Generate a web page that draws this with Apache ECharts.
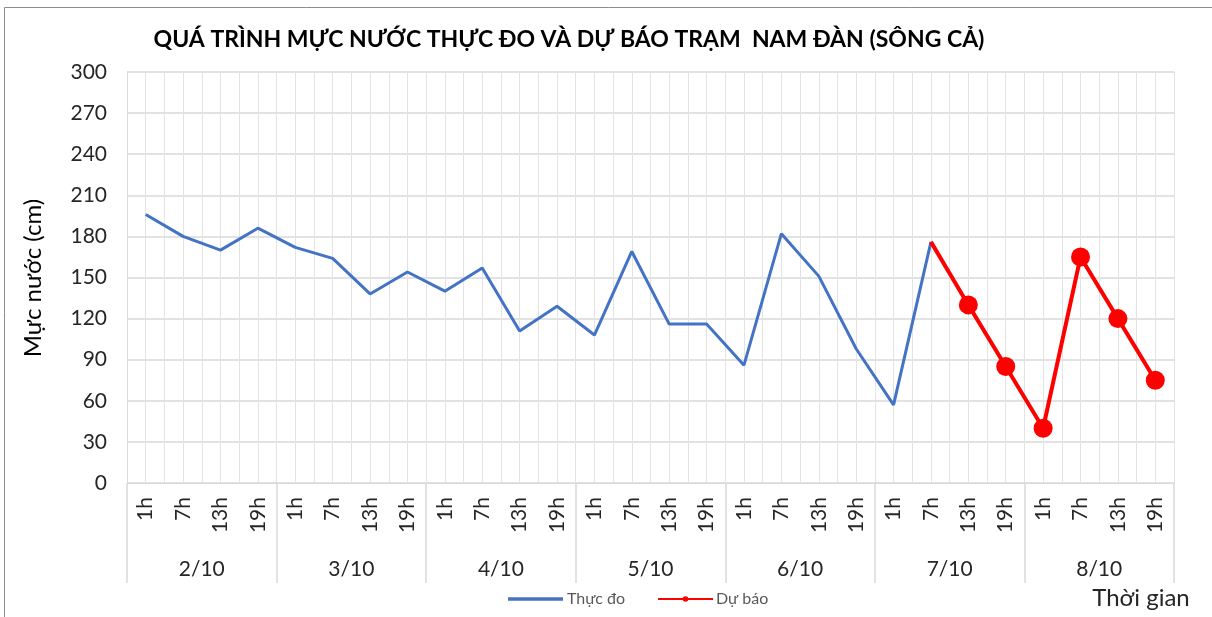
<!DOCTYPE html>
<html><head><meta charset="utf-8">
<script src="https://cdn.jsdelivr.net/npm/echarts@6/dist/echarts.min.js"></script>
<style>html,body{margin:0;padding:0;background:#fff}#c{width:1212px;height:617px}</style>
</head><body><div id="c"></div>
<script>
const hours = ['1h','7h','13h','19h'];
const days = ['2/10','3/10','4/10','5/10','6/10','7/10','8/10'];
const categories = days.flatMap(d => hours.map(h => d + ' ' + h));
const observed = [196,180,170,186, 172,164,138,154, 140,157,111,129, 108,169,116,116, 86,182,151,98, 57,176];
const forecast = [null,null,null,null, null,null,null,null, null,null,null,null, null,null,null,null, null,null,null,null, null,176,130,85, 40,165,120,75];
const yTicks = {min:0, max:300, interval:30};

const FONT = 'Lato';
const chart = echarts.init(document.getElementById('c'), null, {renderer:'canvas'});
chart.setOption({
  animation:false,
  textStyle:{fontFamily:FONT},
  grid:{left:127, right:38, top:72, bottom:134, containLabel:false},
  graphic:[
    {type:'rect', shape:{x:4.5,y:7.5,width:1300,height:700}, style:{fill:'none', stroke:'#8c8c8c', lineWidth:1}, silent:true},
    {type:'text', x:569, y:40, style:{text:'QUÁ TRÌNH MỰC NƯỚC THỰC ĐO VÀ DỰ BÁO TRẠM  NAM ĐÀN (SÔNG CẢ)', font:'bold 23px '+FONT, fill:'#000', align:'center', verticalAlign:'middle'}},
    {type:'text', x:33, y:278, rotation:Math.PI/2, style:{text:'Mực nước (cm)', font:'24px '+FONT, fill:'#000', align:'center', verticalAlign:'middle'}},
    {type:'text', x:1141, y:598, style:{text:'Thời gian', font:'24px '+FONT, fill:'#262626', align:'center', verticalAlign:'middle'}}
  ],
  legend:[
    {data:[{name:'Thực đo', icon:'rect'}], left:503, top:586, itemWidth:55, itemHeight:3.5,
     textStyle:{fontSize:16, color:'#595959', fontFamily:FONT, padding:[0,0,0,-1]}},
    {data:['Dự báo'], left:652, top:586, itemWidth:55, itemHeight:7,
     textStyle:{fontSize:16, color:'#595959', fontFamily:FONT, padding:[0,0,0,-2]}}
  ],
  xAxis:[
    {type:'category', data:categories, boundaryGap:true, position:'bottom',
     axisLine:{show:true, lineStyle:{color:'#d9d9d9', width:1}},
     axisTick:{show:false},
     axisLabel:{interval:0, rotate:90, margin:14, fontSize:21, color:'#262626', formatter:v=>v.split(' ')[1]},
     splitLine:{show:false}},
    {type:'category', data:days, boundaryGap:true, position:'bottom', offset:100,
     axisLine:{show:false},
     axisTick:{show:true, inside:true, length:100, interval:0, lineStyle:{color:'#d9d9d9', width:1.5}},
     axisLabel:{inside:true, margin:3, fontSize:21, color:'#262626', interval:0},
     splitLine:{show:false}},
    {type:'value', min:0, max:56, interval:1, position:'top', show:true,
     axisLine:{show:false}, axisTick:{show:false}, axisLabel:{show:false},
     splitLine:{show:true, lineStyle:{color:'#e3e3e3', width:1}}}
  ],
  yAxis:{type:'value', min:yTicks.min, max:yTicks.max, interval:yTicks.interval,
    axisLine:{show:true, lineStyle:{color:'#d9d9d9'}}, axisTick:{show:false},
    axisLabel:{fontSize:21, color:'#262626', margin:20},
    splitLine:{show:true, lineStyle:{color:'#d9d9d9', width:1.5}}},
  series:[
    {name:'Thực đo', type:'line', xAxisIndex:0, data:observed, symbol:'none', showSymbol:false,
     lineStyle:{color:'#4472C4', width:3}, itemStyle:{color:'#4472C4'}, z:2},
    {name:'Dự báo', type:'line', xAxisIndex:0,
     data:forecast.map((v,i)=> (i===21 ? {value:v, symbol:'none'} : v)),
     symbol:'circle', symbolSize:19, showSymbol:true,
     lineStyle:{color:'#FF0000', width:4}, itemStyle:{color:'#FF0000'}, z:3}
  ]
});
</script></body></html>
